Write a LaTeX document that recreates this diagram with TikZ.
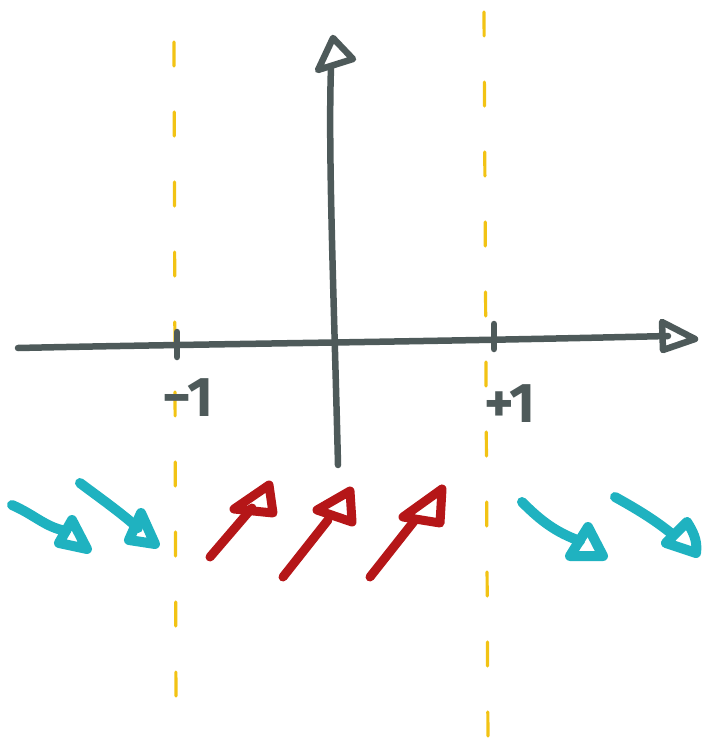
\documentclass[tikz,border=0pt]{standalone}
\usepackage{fontspec}
\setmainfont{Fira Sans}
\begin{document}
\begin{tikzpicture}[x=1pt,y=-1pt,
  axis/.style={draw=axisgray,line width=6.5pt,line cap=round,line join=round},
  guide/.style={draw=guideyellow,line width=3.2pt,line cap=round,dash pattern=on 24pt off 46pt},
  cyanarrow/.style={draw=arrowcyan,line width=10pt,line cap=round,line join=round},
  redarrow/.style={draw=arrowred,line width=9pt,line cap=round,line join=round},
  lbl/.style={text=axisgray,font=\fontsize{56}{56}\selectfont\bfseries}]
\definecolor{axisgray}{HTML}{4E5A5A}
\definecolor{guideyellow}{HTML}{F2C314}
\definecolor{arrowcyan}{HTML}{1FB2C0}
\definecolor{arrowred}{HTML}{B51618}
\useasboundingbox (0,0) rectangle (719,749);
% guides
\draw[guide] (174,42) -- (176,712);
\draw[guide] (484,12) -- (488,742);
% axes
\coordinate (xs) at (18,348);
\coordinate (xe) at (668,336);
\coordinate (ys) at (338,465);
\coordinate (ye) at (331,68);
\draw[axis] (xs) .. controls (200,344) and (420,342) .. (xe);
\draw[axis] (662,322) -- (695,339) -- (663,350) -- cycle;
\draw[axis] (ys) .. controls (334,300) and (328,150) .. (ye);
\draw[axis] (318,70) -- (333,38) -- (353,59) -- cycle;
\draw[axis] (177,332) -- (177,357);
\draw[axis] (494,324) -- (494,349);
\node[lbl] (m1) at (188,398) {−1};
\node[lbl] (p1) at (510,404) {+1};
% cyan arrows
\draw[cyanarrow] (12,505) .. controls (35,515) and (45,527) .. (66,531);
\draw[cyanarrow] (72,520) -- (59,543) -- (87,549) -- cycle;
\draw[cyanarrow] (80,483) .. controls (100,498) and (120,512) .. (138,528);
\draw[cyanarrow] (141,513) -- (129,540) -- (155,544) -- cycle;
\draw[cyanarrow] (522,502) .. controls (540,520) and (555,532) .. (580,541);
\draw[cyanarrow] (588,527) -- (570,556) -- (603,556) -- cycle;
\draw[cyanarrow] (615,497) .. controls (635,508) and (655,520) .. (672,534);
\draw[cyanarrow] (687,522) -- (666,543) -- (696,553) .. controls (698,540) and (692,530) .. (687,522);
% red arrows
\draw[redarrow] (210,557) -- (252,508);
\draw[redarrow] (234,509) -- (269,485) -- (273,513) -- cycle;
\draw[redarrow] (283,577) -- (328,520);
\draw[redarrow] (317,510) -- (350,491) -- (352,522) -- cycle;
\draw[redarrow] (370,577) -- (415,520);
\draw[redarrow] (403,517) -- (442,489) -- (440,523) -- cycle;
\end{tikzpicture}
\end{document}
